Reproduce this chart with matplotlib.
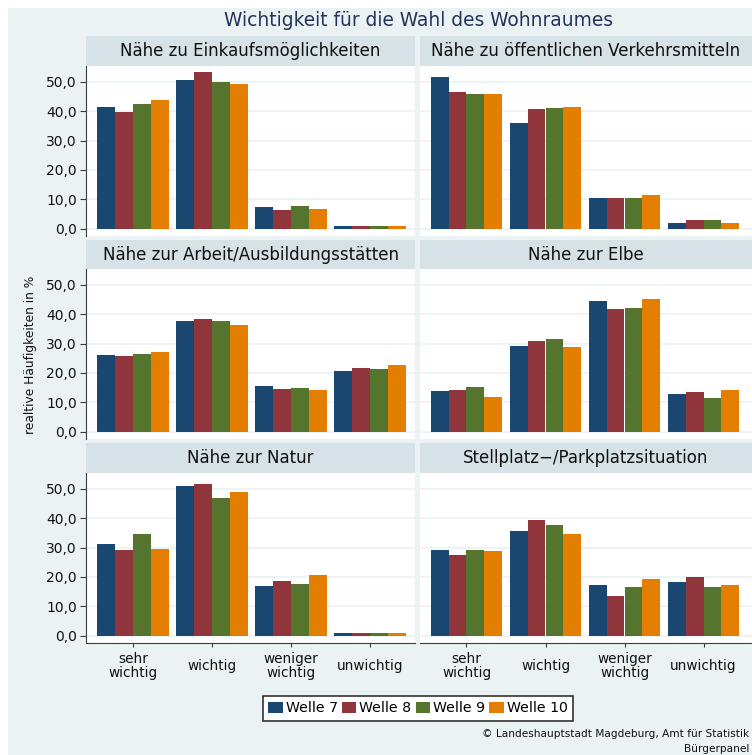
import matplotlib
matplotlib.use("Agg")
import matplotlib.pyplot as plt
from matplotlib.patches import Rectangle, Patch
import numpy as np

plt.rcParams['font.family'] = ['DejaVu Sans']

W, H = 752, 755

categories = ["sehr\nwichtig", "wichtig", "weniger\nwichtig", "unwichtig"]
waves = ["Welle 7", "Welle 8", "Welle 9", "Welle 10"]
colors = ["#1a476f", "#90353b", "#55752f", "#e37e00"]
ytick_vals = [0, 10, 20, 30, 40, 50]
ytick_labels = ["0,0", "10,0", "20,0", "30,0", "40,0", "50,0"]

titles = [
    "Nähe zu Einkaufsmöglichkeiten",
    "Nähe zu öffentlichen Verkehrsmitteln",
    "Nähe zur Arbeit/Ausbildungsstätten",
    "Nähe zur Elbe",
    "Nähe zur Natur",
    "Stellplatz\u2212/Parkplatzsituation",
]

# values per panel: rows = waves (7, 8, 9, 10), cols = categories
einkauf = [[41.3, 50.8, 7.5, 1.0],
           [39.9, 53.3, 6.5, 1.0],
           [42.3, 49.8, 7.8, 1.0],
           [43.7, 49.1, 6.8, 1.0]]
oepnv = [[51.8, 36.1, 10.6, 2.0],
         [46.4, 40.6, 10.6, 3.1],
         [45.7, 41.0, 10.6, 3.1],
         [45.7, 41.3, 11.6, 2.0]]
arbeit = [[26.0, 37.6, 15.5, 20.6],
          [25.7, 38.3, 14.4, 21.6],
          [26.4, 37.6, 14.8, 21.2],
          [27.0, 36.3, 14.1, 22.6]]
elbe = [[13.8, 29.1, 44.4, 12.7],
        [14.1, 30.8, 41.7, 13.4],
        [15.1, 31.5, 42.0, 11.4],
        [11.7, 28.8, 45.1, 14.1]]
natur = [[31.2, 51.0, 16.9, 0.9],
         [29.2, 51.7, 18.6, 0.9],
         [34.7, 46.9, 17.6, 0.9],
         [29.5, 49.0, 20.7, 0.9]]
stellplatz = [[29.2, 35.7, 17.3, 18.3],
              [27.5, 39.4, 13.5, 20.0],
              [29.2, 37.7, 16.6, 16.6],
              [28.9, 34.7, 19.3, 17.3]]
panels = [einkauf, oepnv, arbeit, elbe, natur, stellplatz]

BG = "#eaf2f3"
STRIP = "#d6e2e6"
AXC = "#3c3c3c"

fig = plt.figure(figsize=(W / 100, H / 100), dpi=100)
fig.patch.set_facecolor("white")
fig.patches.append(Rectangle((8 / W, 0), 1 - 8 / W, 1 - 8 / H, transform=fig.transFigure,
                             facecolor=BG, edgecolor="none", zorder=-10))


def px_axes(x0, y0, x1, y1, **kw):
    return fig.add_axes([x0 / W, 1 - y1 / H, (x1 - x0) / W, (y1 - y0) / H], **kw)


cols_x = [(86, 415), (420, 752)]
centers0 = [133, 466.5]
spacing = 79.0
rows = [(36, 66, 236), (240, 269, 439), (443, 473, 643)]
ylim = (-2.5, 55.4)
barw = 0.225
x = np.arange(len(categories))

for i, data in enumerate(panels):
    r, c = divmod(i, 2)
    x0, x1 = cols_x[c]
    ht, hb, pb = rows[r]
    # strip
    hax = px_axes(x0, ht, x1, hb)
    hax.set_facecolor(STRIP)
    hax.set_xticks([]); hax.set_yticks([])
    for s in hax.spines.values():
        s.set_visible(False)
    hax.text(0.5, 0.5, titles[i], ha="center", va="center", fontsize=12,
             color="#111111", transform=hax.transAxes)
    # plot
    ax = px_axes(x0, hb, x1, pb)
    ax.set_facecolor("white")
    ax.set_xlim((x0 - centers0[c]) / spacing, (x1 - centers0[c]) / spacing)
    ax.set_ylim(*ylim)
    for yv in ytick_vals:
        ax.axhline(yv, color=BG, lw=1.2, zorder=0)
    for k in range(len(waves)):
        ax.bar(x + (k - 1.5) * barw, data[k], width=barw, color=colors[k],
               linewidth=0, zorder=2)
    for s in ["top", "right"]:
        ax.spines[s].set_visible(False)
    ax.spines["left"].set_visible(c == 0)
    ax.spines["left"].set_color(AXC)
    ax.spines["bottom"].set_visible(r == 2)
    ax.spines["bottom"].set_color(AXC)
    if c == 0:
        ax.set_yticks(ytick_vals, labels=ytick_labels, fontsize=10, color="#111111")
        ax.tick_params(axis="y", length=4.5, color=AXC, pad=2)
    else:
        ax.set_yticks([])
    if r == 2:
        ax.set_xticks(x, labels=categories, fontsize=9.8, color="#111111",
                      linespacing=0.95)
        ax.tick_params(axis="x", length=3, color=AXC, pad=13.5)
        for lbl in ax.get_xticklabels():
            lbl.set_va("center")
            lbl.set_ha("center")
            lbl.set_multialignment("center")
    else:
        ax.set_xticks([])

# title
fig.text(418 / W, 1 - 26 / H, "Wichtigkeit für die Wahl des Wohnraumes", ha="center",
         va="baseline", fontsize=13.4, color="#22335c")
# y label
fig.text(31 / W, 1 - 355 / H, "realtive Häufigkeiten in %", rotation=90, ha="center",
         va="center", fontsize=8.8, color="#111111")

# legend
handles = [Patch(facecolor=col, edgecolor="none") for col in colors]
leg = fig.legend(handles, waves, loc="center", bbox_to_anchor=(418 / W, 1 - 708.5 / H),
                 ncol=4, fontsize=10.2, frameon=True, fancybox=False,
                 handlelength=1.0, handleheight=0.85, handletextpad=0.22,
                 columnspacing=0.3, borderpad=0.42, borderaxespad=0)
leg.get_frame().set_edgecolor("#333333")
leg.get_frame().set_linewidth(1.2)
leg.get_frame().set_facecolor("white")
leg.get_frame().set_alpha(1)

# credits
fig.text(749 / W, 1 - 734 / H, "© Landeshauptstadt Magdeburg, Amt für Statistik",
         ha="right", va="center", fontsize=7.6, color="#111111")
fig.text(749 / W, 1 - 749 / H, "Bürgerpanel", ha="right", va="center",
         fontsize=7.6, color="#111111")

fig.savefig("out.png", dpi=100, facecolor=fig.get_facecolor())
